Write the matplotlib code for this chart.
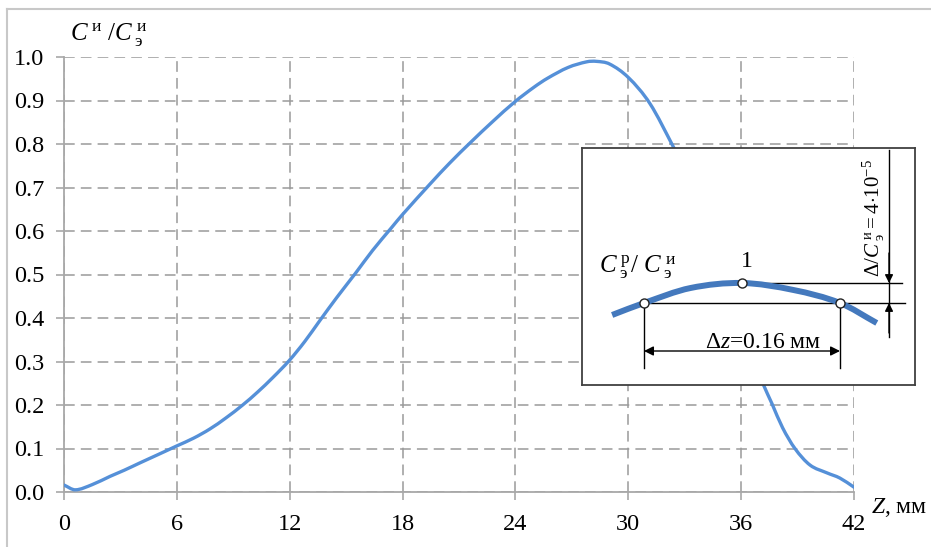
import matplotlib
matplotlib.use("Agg")
import matplotlib.pyplot as plt
from matplotlib.lines import Line2D
from matplotlib.path import Path
from matplotlib.patches import PathPatch

plt.rcParams["font.family"] = ["Liberation Serif", "DejaVu Serif"]
plt.rcParams["mathtext.fontset"] = "custom"
plt.rcParams["mathtext.rm"] = "Liberation Serif"
plt.rcParams["mathtext.it"] = "Liberation Serif:italic"
plt.rcParams["mathtext.bf"] = "Liberation Serif:bold"

# Relative intensity profile along the axis
z_mm = [0.0, 0.6, 1.5, 2.45, 3.2, 4.04, 5.0, 6.0, 6.9, 7.76, 8.6, 9.5, 10.3,
        11.1, 11.97, 12.8, 13.6, 14.5, 15.5, 16.4, 17.4, 18.0, 19.46, 20.5,
        21.6, 22.8, 23.97, 25.0, 25.7, 26.8, 27.8, 28.3, 29.0, 30.0, 31.15,
        32.4, 33.0, 34.0, 35.0, 36.0, 36.6, 37.16, 37.64, 38.2, 38.86,
        39.66, 40.56, 41.25, 42.0]
c_rel = [0.016, 0.005, 0.017, 0.036, 0.050, 0.067, 0.086, 0.106, 0.124,
         0.145, 0.170, 0.200, 0.230, 0.263, 0.302, 0.346, 0.394, 0.447,
         0.503, 0.555, 0.607, 0.638, 0.708, 0.756, 0.803, 0.852, 0.897,
         0.931, 0.951, 0.976, 0.989, 0.990, 0.984, 0.953, 0.893, 0.793,
         0.740, 0.631, 0.505, 0.380, 0.310, 0.249, 0.203, 0.148, 0.100,
         0.062, 0.044, 0.032, 0.011]

x_ticks = [0, 6, 12, 18, 24, 30, 36, 42]
y_ticks = [0.0, 0.1, 0.2, 0.3, 0.4, 0.5, 0.6, 0.7, 0.8, 0.9, 1.0]

# Magnified view near the maximum: offset from peak (mm) and change (1e-5)
arc_dz = [-0.106, -0.080, -0.042, 0.0, 0.042, 0.080, 0.110]
arc_dc = [-6.4, -4.0, -1.0, 0.0, -1.4, -4.0, -8.0]
pts_dz = [-0.08, 0.0, 0.08]
pts_dc = [-4.0, 0.0, -4.0]
delta_z = 0.16
delta_c = 4.0


def smooth_path(xs, ys):
    """Cubic Hermite curve through (xs, ys) with x increasing, as Bezier path."""
    n = len(xs)
    slopes = []
    for i in range(n):
        a = max(i - 1, 0)
        b = min(i + 1, n - 1)
        slopes.append((ys[b] - ys[a]) / (xs[b] - xs[a]))
    verts = [(xs[0], ys[0])]
    codes = [Path.MOVETO]
    for i in range(n - 1):
        h = (xs[i + 1] - xs[i]) / 3
        verts += [(xs[i] + h, ys[i] + slopes[i] * h),
                  (xs[i + 1] - h, ys[i + 1] - slopes[i + 1] * h),
                  (xs[i + 1], ys[i + 1])]
        codes += [Path.CURVE4] * 3
    return Path(verts, codes)


W, H = 931, 547
fig = plt.figure(figsize=(W / 100, H / 100), dpi=100)

# outer frame (top and left edges)
fc = "#c8c8c8"
fig.add_artist(Line2D([7 / W, 1.0], [1 - 9 / H, 1 - 9 / H], color=fc, lw=1.5,
                      transform=fig.transFigure))
fig.add_artist(Line2D([7 / W, 7 / W], [0.0, 1 - 9 / H], color=fc, lw=1.5,
                      transform=fig.transFigure))

ax = fig.add_axes([64 / W, 1 - 492 / H, (854 - 64) / W, (492 - 57) / H])
ax.add_patch(PathPatch(smooth_path(z_mm, c_rel), facecolor="none",
                       edgecolor="#5590d8", lw=2.4, capstyle="round",
                       zorder=3))
ax.set_xlim(0, 42)
ax.set_ylim(0, 1.0)
ax.set_xticks(x_ticks)
ax.set_xticklabels([str(t) for t in x_ticks])
ax.set_yticks(y_ticks)
ax.set_yticklabels([f"{t:.1f}" for t in y_ticks])
ax.grid(True, color="#9a9a9a", lw=1.1, linestyle=(0, (7, 4)))
for s in ("top", "right"):
    ax.spines[s].set_visible(False)
for s in ("left", "bottom"):
    ax.spines[s].set_color("#a8a8a8")
    ax.spines[s].set_linewidth(1.3)
ax.tick_params(axis="both", direction="out", length=6, width=1.2,
               color="#a8a8a8", labelsize=17.5, labelcolor="black")
ax.tick_params(axis="x", pad=10)
ax.tick_params(axis="y", pad=8)

fig.text(70 / W, 1 - 40 / H,
         r"$C^{\;\mathrm{и}}\ /C^{\;\mathrm{и}}_{\;\mathrm{э}}$",
         fontsize=18, va="baseline", ha="left")
fig.text(871 / W, 1 - 513 / H, r"$Z$, мм", fontsize=17, va="baseline",
         ha="left")

# inset: magnified neighbourhood of the maximum
ia = fig.add_axes([582 / W, 1 - 385 / H, (915 - 582) / W, (385 - 148) / H],
                  zorder=5)
ia.set_facecolor("white")
ia.set_xlim(-0.1306, 0.1412)
ia.set_ylim(-20.4, 27.0)
ia.set_xticks([])
ia.set_yticks([])
for s in ia.spines.values():
    s.set_color("#404040")
    s.set_linewidth(1.3)

ia.add_patch(PathPatch(smooth_path(arc_dz, arc_dc), facecolor="none",
                       edgecolor="#4479bd", lw=4.3, capstyle="butt", zorder=3))
k = "black"
ia.plot([pts_dz[1], 0.1306], [pts_dc[1], pts_dc[1]], color=k, lw=1.0, zorder=2)
ia.plot([pts_dz[0], 0.133], [pts_dc[0], pts_dc[0]], color=k, lw=1.0, zorder=2)
for xv in (pts_dz[0], pts_dz[2]):
    ia.plot([xv, xv], [pts_dc[0], -17.0], color=k, lw=1.0, zorder=2)
ia.plot(pts_dz, pts_dc, linestyle="none", marker="o", ms=6.5, mfc="white",
        mec="#222222", mew=1.0, zorder=4)

# horizontal dimension arrow for delta z
ia.annotate("", xy=(pts_dz[0], -13.6), xytext=(pts_dz[0] + delta_z, -13.6),
            arrowprops=dict(arrowstyle="<|-|>", color=k, lw=1.0,
                            mutation_scale=14, shrinkA=0, shrinkB=0))
ia.text(0.017, -13.0, r"$\Delta z$=0.16 мм", fontsize=17, ha="center",
        va="baseline")

# vertical dimension arrows for delta C
xd = 0.120
ia.plot([xd, xd], [26.6, -10.8], color=k, lw=1.0, zorder=2)
ia.annotate("", xy=(xd, 0.0), xytext=(xd, 6.0),
            arrowprops=dict(arrowstyle="-|>", color=k, lw=1.0,
                            mutation_scale=12, shrinkA=0, shrinkB=0))
ia.annotate("", xy=(xd, -delta_c), xytext=(xd, -delta_c - 6.0),
            arrowprops=dict(arrowstyle="-|>", color=k, lw=1.0,
                            mutation_scale=12, shrinkA=0, shrinkB=0))
ia.text(0.108, 1.2,
        r"$\Delta/C^{\;\mathrm{и}}_{\;\mathrm{э}} = 4{\cdot}10^{-5}$",
        fontsize=15, rotation=90, ha="center", va="bottom")

ia.text(-0.117, 2.0,
        r"$C^{\;\mathrm{р}}_{\;\mathrm{э}}/\ C^{\;\mathrm{и}}_{\;\mathrm{э}}$",
        fontsize=18, ha="left", va="baseline")
ia.text(0.004, 3.2, "1", fontsize=17, ha="center", va="baseline")

fig.savefig("out.png", dpi=100)
